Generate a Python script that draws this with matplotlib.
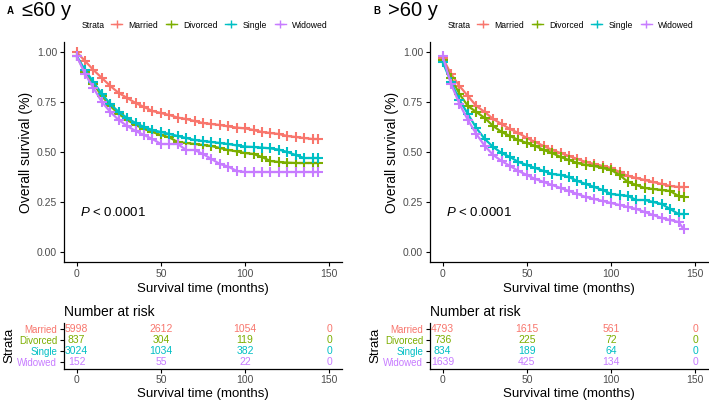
import matplotlib
matplotlib.use("Agg")
import matplotlib.pyplot as plt
from matplotlib.lines import Line2D

plt.rcParams['font.family'] = ['Liberation Sans', 'DejaVu Sans']
plt.rcParams['mathtext.fontset'] = 'custom'
plt.rcParams['mathtext.it'] = 'Liberation Sans:italic'
plt.rcParams['mathtext.rm'] = 'Liberation Sans'

W, H = 709, 400

strata = ['Married', 'Divorced', 'Single', 'Widowed']
colors = ['#F8766D', '#7CAE00', '#00BFC4', '#C77CFF']

# survival read at these months
months = [0, 5, 10, 15, 20, 25, 30, 35, 40, 45, 50, 55, 60, 65, 70, 75, 80,
          85, 90, 95, 100, 105, 110, 115, 120, 125, 130, 135, 140, 143]

# panel A: <=60 y
a_married = [1.00, 0.955, 0.91, 0.87, 0.83, 0.795, 0.77, 0.745, 0.725, 0.705,
             0.695, 0.685, 0.672, 0.665, 0.655, 0.645, 0.64, 0.635, 0.628, 0.622,
             0.618, 0.61, 0.60, 0.595, 0.59, 0.58, 0.575, 0.57, 0.565, 0.565]
a_divorced = [0.98, 0.90, 0.84, 0.78, 0.73, 0.69, 0.66, 0.635, 0.615, 0.60,
              0.585, 0.573, 0.55, 0.545, 0.54, 0.535, 0.53, 0.52, 0.51, 0.503,
              0.495, 0.49, 0.475, 0.455, 0.45, 0.447, 0.445, 0.445, 0.445, 0.445]
a_single = [0.98, 0.91, 0.85, 0.79, 0.74, 0.70, 0.67, 0.645, 0.625, 0.61,
            0.60, 0.59, 0.58, 0.57, 0.56, 0.555, 0.55, 0.545, 0.54, 0.533,
            0.527, 0.525, 0.522, 0.518, 0.512, 0.50, 0.485, 0.47, 0.47, 0.47]
a_widowed = [0.98, 0.89, 0.82, 0.75, 0.70, 0.66, 0.63, 0.605, 0.585, 0.565,
             0.54, 0.54, 0.54, 0.51, 0.51, 0.49, 0.465, 0.44, 0.427, 0.405,
             0.40, 0.40, 0.40, 0.40, 0.40, 0.40, 0.40, 0.40, 0.40, 0.40]

# panel B: >60 y
b_married = [0.97, 0.89, 0.83, 0.78, 0.73, 0.70, 0.665, 0.64, 0.615, 0.595,
             0.57, 0.55, 0.53, 0.51, 0.495, 0.48, 0.465, 0.45, 0.44, 0.43,
             0.42, 0.40, 0.38, 0.37, 0.36, 0.35, 0.34, 0.33, 0.325, 0.325]
b_divorced = [0.96, 0.87, 0.79, 0.73, 0.70, 0.67, 0.63, 0.60, 0.58, 0.56,
              0.545, 0.53, 0.51, 0.495, 0.475, 0.46, 0.445, 0.435, 0.43, 0.42,
              0.41, 0.385, 0.35, 0.335, 0.32, 0.315, 0.31, 0.305, 0.28, 0.275]
b_single = [0.95, 0.85, 0.76, 0.69, 0.62, 0.565, 0.525, 0.495, 0.475, 0.45,
            0.435, 0.42, 0.405, 0.39, 0.385, 0.375, 0.355, 0.34, 0.325, 0.31,
            0.29, 0.285, 0.28, 0.26, 0.26, 0.25, 0.24, 0.215, 0.19, 0.19]
b_widowed = [0.98, 0.84, 0.74, 0.66, 0.59, 0.53, 0.485, 0.455, 0.43, 0.405,
             0.385, 0.365, 0.35, 0.335, 0.32, 0.305, 0.29, 0.275, 0.265, 0.255,
             0.245, 0.235, 0.225, 0.215, 0.20, 0.185, 0.17, 0.16, 0.15, 0.115]

risk_times = [0, 50, 100, 150]
a_risk = {'Married': [5998, 2612, 1054, 0], 'Divorced': [837, 304, 119, 0],
          'Single': [3024, 1034, 382, 0], 'Widowed': [152, 55, 22, 0]}
b_risk = {'Married': [4793, 1615, 561, 0], 'Divorced': [736, 225, 72, 0],
          'Single': [834, 189, 64, 0], 'Widowed': [1639, 425, 134, 0]}


def rect(l, t, r, b):
    return [l / W, 1 - b / H, (r - l) / W, (b - t) / H]


def style(ax):
    for s in ['top', 'right']:
        ax.spines[s].set_visible(False)
    for s in ['left', 'bottom']:
        ax.spines[s].set_linewidth(0.9)
    ax.tick_params(length=3, width=0.8, labelsize=7.5, labelcolor='#4D4D4D', pad=2)
    ax.set_xlim(-7.5, 157.5)
    ax.set_xticks(risk_times)


fig = plt.figure(figsize=(W / 100, H / 100), dpi=100)

panels = [
    (64, 'A', '\u226460 y', [a_married, a_divorced, a_single, a_widowed], a_risk),
    (430, 'B', '>60 y', [b_married, b_divorced, b_single, b_widowed], b_risk),
]

for left, letter, title, curves, risk in panels:
    right = left + 278
    ax = fig.add_axes(rect(left, 42, right, 262))
    style(ax)
    for surv, c, name in zip(curves, colors, strata):
        ax.plot(months, surv, color=c, lw=1.6, marker='+', ms=6.5, mew=1.5)
    ax.set_ylim(-0.05, 1.05)
    ax.set_yticks([0, 0.25, 0.5, 0.75, 1.0])
    ax.set_yticklabels(['0.00', '0.25', '0.50', '0.75', '1.00'])
    ax.set_xlabel('Survival time (months)', fontsize=9.5, labelpad=3)
    ax.set_ylabel('Overall survival (%)', fontsize=10, labelpad=3)
    ax.text(2, 0.2, r'$\mathit{P}$ < 0.0001', fontsize=9.5, va='center', ha='left')

    fig.text((left - 57) / W, 1 - 11 / H, letter, fontsize=7, fontweight='bold',
             va='center', ha='left')
    fig.text((left - 42) / W, 1 - 10 / H, title, fontsize=14.5, va='center', ha='left')

    fig.text((left + 18) / W, 1 - 25 / H, 'Strata', fontsize=6.2, va='center', ha='left')
    handles = [Line2D([], [], color=c, marker='+', ms=6, lw=1) for c in colors]
    fig.legend(handles, strata, loc='center left', ncol=4, frameon=False,
               fontsize=6.2, handlelength=1.3, handletextpad=0.7, columnspacing=0.9,
               borderpad=0, borderaxespad=0,
               bbox_to_anchor=((left + 47) / W, 1 - 25 / H))

    # risk table
    rt = fig.add_axes(rect(left, 322.5, right, 368.5))
    style(rt)
    rows = [4, 3, 2, 1]
    for name, c, y in zip(strata, colors, rows):
        for t, n in zip(risk_times, risk[name]):
            rt.text(t, y, str(n), color=c, fontsize=7.5, ha='center', va='center')
    rt.set_ylim(0.4, 4.6)
    rt.set_yticks(rows)
    rt.set_yticklabels(strata, fontsize=7)
    for lab, c in zip(rt.get_yticklabels(), colors):
        lab.set_color(c)
    rt.set_ylabel('Strata', fontsize=9.5, labelpad=1)
    rt.set_xlabel('Survival time (months)', fontsize=9.5, labelpad=2)
    rt.set_title('Number at risk', fontsize=10, loc='left', pad=5, x=0.0)

fig.savefig('out.png', dpi=100)
